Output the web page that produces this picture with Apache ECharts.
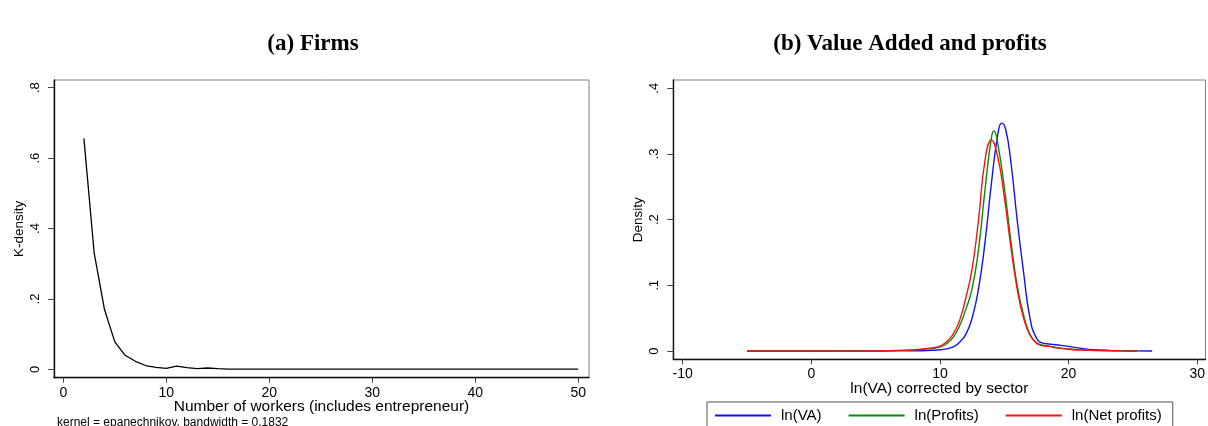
<!DOCTYPE html>
<html>
<head>
<meta charset="utf-8">
<script src="https://cdn.jsdelivr.net/npm/echarts@6/dist/echarts.min.js"></script>
<style>
  html, body { margin: 0; padding: 0; background: #fff; }
  #chart { width: 1208px; height: 426px; }
</style>
</head>
<body>
<div id="chart"></div>
<script>
// ---- Panel (a): Firms ----
const workers = [2,3,4,5,6,7,8,9,10,11,12,13,14,15,16,17,18,19,20,21,22,23,24,25,26,27,28,29,30,31,32,33,34,35,36,37,38,39,40,41,42,43,44,45,46,47,48,49,50];
const kDensity = [0.656,0.330,0.170,0.078,0.040,0.023,0.011,0.006,0.003,0.009,0.005,0.002,0.004,0.002,0.001,0.001,0.001,0.001,0.001,0.001,0.001,0.001,0.001,0.001,0.001,0.001,0.001,0.001,0.001,0.001,0.001,0.001,0.001,0.001,0.001,0.001,0.001,0.001,0.001,0.001,0.001,0.001,0.001,0.001,0.001,0.001,0.001,0.001,0.001];
const leftXTicks = [0, 10, 20, 30, 40, 50];
const leftYTicks = [0, 0.2, 0.4, 0.6, 0.8];
const leftYTickLabels = ['0', '.2', '.4', '.6', '.8'];

// ---- Panel (b): Value Added and profits ----
const vaX = [-5,0,5,8,9,10,11,11.5,12,12.5,13,13.5,14,14.5,14.8,15.1,15.5,16,16.5,17,17.5,18,18.5,19,20,21,22,23,24,25,26.5];
const vaY = [0,0,0.0001,0.0004,0.0009,0.002,0.006,0.013,0.025,0.05,0.095,0.165,0.255,0.33,0.347,0.338,0.29,0.2,0.12,0.05,0.02,0.012,0.0107,0.0095,0.007,0.004,0.002,0.0012,0.0006,0.0003,0.0001];
const profX = [-5,0,5,7,8,9,10,10.5,11,11.5,12,12.5,13,13.5,14,14.2,14.5,15,15.5,16,16.5,17,17.5,18,18.5,19,20,21,22,23,24,25.3];
const profY = [0,0,0.0003,0.001,0.0015,0.003,0.006,0.011,0.02,0.037,0.063,0.095,0.155,0.245,0.325,0.335,0.315,0.25,0.17,0.1,0.055,0.025,0.013,0.009,0.0075,0.0055,0.003,0.0017,0.001,0.0006,0.0003,0.0001];
const netX = [-5,0,5,7,8,9,10,10.5,11,11.5,12,12.5,13,13.5,14,14.5,15,15.5,16,16.5,17,17.5,18,18.5,19,20,21,22,23,24,25.3];
const netY = [0,0,0.0003,0.001,0.002,0.004,0.0075,0.014,0.025,0.045,0.08,0.125,0.2,0.29,0.321,0.295,0.235,0.16,0.095,0.05,0.024,0.012,0.008,0.007,0.0048,0.0028,0.0015,0.0009,0.0005,0.0003,0.0001];
const rightXTicks = [-10, 0, 10, 20, 30];
const rightYTicks = [0, 0.1, 0.2, 0.3, 0.4];
const rightYTickLabels = ['0', '.1', '.2', '.3', '.4'];
const seriesNames = ['ln(VA)', 'ln(Profits)', 'ln(Net profits)'];

const SANS = '"Liberation Sans", Arial, Helvetica, sans-serif';
const SERIF = '"Liberation Serif", "Times New Roman", serif';

function pairs(xs, ys) { return xs.map((x, i) => [x, ys[i]]); }
function labelFrom(ticks, labels) {
  return v => { const i = ticks.findIndex(t => Math.abs(t - v) < 1e-9); return i >= 0 ? labels[i] : ''; };
}

function xAxisCfg(grid, min, max, ticks, name, gap) {
  return {
    type: 'value', gridIndex: grid, min: min, max: max,
    axisLine: { show: true, onZero: false, lineStyle: { color: '#111', width: 1.4 } },
    axisTick: { show: true, customValues: ticks, length: 5, lineStyle: { color: '#444', width: 1 } },
    axisLabel: { customValues: ticks, margin: 8, fontSize: 14, color: '#000', fontFamily: SANS, hideOverlap: false },
    splitLine: { show: false },
    name: name, nameLocation: 'middle', nameGap: gap, nameMoveOverlap: false,
    nameTextStyle: { fontSize: 15.5, color: '#000', fontFamily: SANS }
  };
}
function yAxisCfg(grid, min, max, ticks, labels, name) {
  return {
    type: 'value', gridIndex: grid, min: min, max: max,
    axisLine: { show: true, onZero: false, lineStyle: { color: '#111', width: 1.4 } },
    axisTick: { show: true, customValues: ticks, length: 6, lineStyle: { color: '#444', width: 1 } },
    axisLabel: { customValues: ticks, rotate: 90, margin: 12, fontSize: 13, color: '#000', fontFamily: SANS,
                 formatter: labelFrom(ticks, labels), hideOverlap: false },
    splitLine: { show: false },
    name: name, nameLocation: 'middle', nameGap: 28, nameRotate: 90,
    nameTextStyle: { fontSize: 13.5, color: '#000', fontFamily: SANS }
  };
}

const chart = echarts.init(document.getElementById('chart'), null, { renderer: 'canvas' });
chart.setOption({
  animation: false,
  backgroundColor: '#fff',
  title: [
    { text: '(a) Firms', left: 313, top: 33, textAlign: 'center', padding: 0,
      textStyle: { fontFamily: SERIF, fontWeight: 'bold', fontSize: 23, color: '#000' } },
    { text: '(b) Value Added and profits', left: 910, top: 33, textAlign: 'center', padding: 0,
      textStyle: { fontFamily: SERIF, fontWeight: 'bold', fontSize: 23, color: '#000' } }
  ],
  grid: [
    { left: 54, top: 80, width: 535, height: 297.7, show: true, borderColor: '#808080', borderWidth: 1, backgroundColor: '#fff' },
    { left: 673.3, top: 80, width: 533.7, height: 279.3, show: true, borderColor: '#808080', borderWidth: 1, backgroundColor: '#fff' }
  ],
  xAxis: [
    xAxisCfg(0, -0.903, 51.04, leftXTicks, 'Number of workers (includes entrepreneur)', 21),
    xAxisCfg(1, -10.73, 30.64, rightXTicks, 'ln(VA) corrected by sector', 21)
  ],
  yAxis: [
    yAxisCfg(0, -0.0236, 0.8219, leftYTicks, leftYTickLabels, 'K-density'),
    yAxisCfg(1, -0.0126, 0.4126, rightYTicks, rightYTickLabels, 'Density')
  ],
  legend: {
    data: seriesNames,
    left: 707, top: 402,
    orient: 'horizontal',
    itemWidth: 56, itemHeight: 15, itemGap: 26,
    padding: [6, 11, 12, 7],
    borderColor: '#555', borderWidth: 1,
    itemStyle: { opacity: 0 },
    textStyle: { fontSize: 15, color: '#000', fontFamily: SANS, padding: [0, 0, 0, 5] }
  },
  graphic: [
    { type: 'text', left: 57, top: 417,
      style: { text: 'kernel = epanechnikov, bandwidth = 0.1832', font: '12px ' + SANS, fill: '#000' } }
  ],
  series: [
    { type: 'line', name: 'K-density', xAxisIndex: 0, yAxisIndex: 0, data: pairs(workers, kDensity),
      symbol: 'none', smooth: false, lineStyle: { color: '#000', width: 1.3 } },
    { type: 'line', name: seriesNames[0], xAxisIndex: 1, yAxisIndex: 1, data: pairs(vaX, vaY),
      symbol: 'none', smooth: 0.5, color: '#1010ff', lineStyle: { color: '#1010ff', width: 1.4 } },
    { type: 'line', name: seriesNames[1], xAxisIndex: 1, yAxisIndex: 1, data: pairs(profX, profY),
      symbol: 'none', smooth: 0.5, color: '#0a8c0a', lineStyle: { color: '#0a8c0a', width: 1.4 } },
    { type: 'line', name: seriesNames[2], xAxisIndex: 1, yAxisIndex: 1, data: pairs(netX, netY),
      symbol: 'none', smooth: 0.5, color: '#ff1010', lineStyle: { color: '#ff1010', width: 1.4 } }
  ]
});
</script>
</body>
</html>
